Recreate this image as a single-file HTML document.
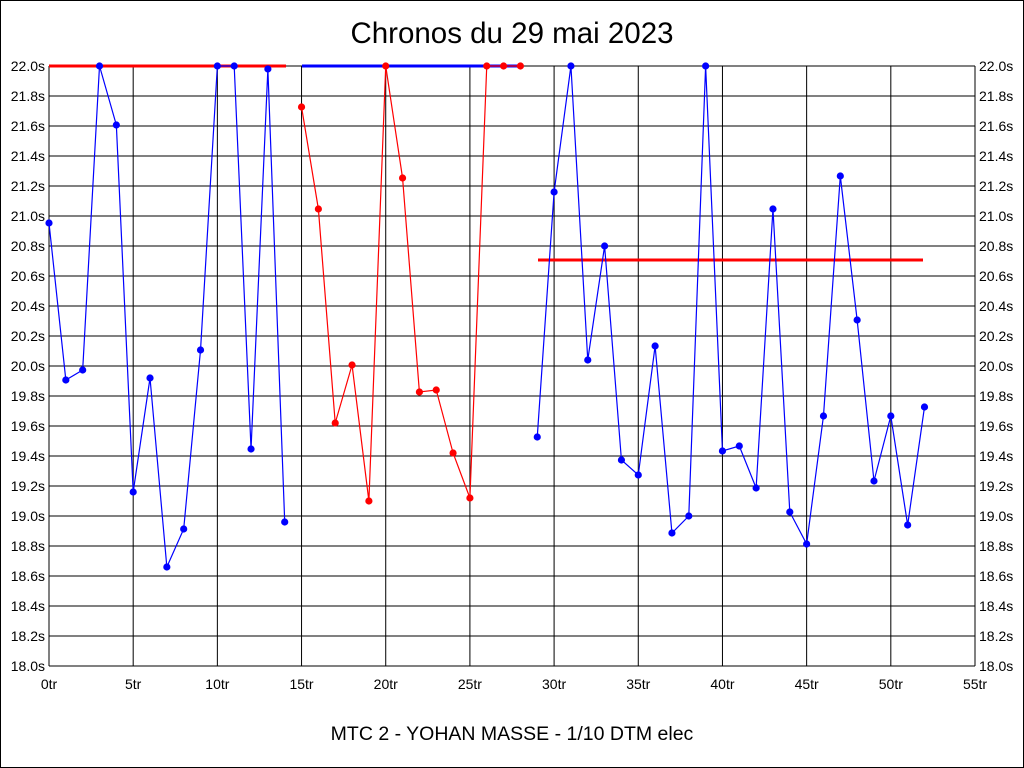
<!DOCTYPE html>
<html><head><meta charset="utf-8"><style>
html,body{margin:0;padding:0;background:#fff}
svg{display:block}
text{font-family:"Liberation Sans",sans-serif;fill:#000}
</style></head><body>
<svg id="s" width="1024" height="768" xmlns="http://www.w3.org/2000/svg">
<rect x="0.5" y="0.5" width="1023" height="767" fill="#fff" stroke="#000"/>
<text x="512" y="43" font-size="29.5" text-anchor="middle">Chronos du 29 mai 2023</text>
<text x="512" y="740" font-size="19.5" text-anchor="middle">MTC 2 - YOHAN MASSE - 1/10 DTM elec</text>
<g id="g"></g>
</svg>
<script>
var g=document.getElementById('g'),h='';
function X(i){return 49+i*926/55}
for(var k=0;k<=20;k++){var y=66+k*30;h+='<line x1="49" x2="975" y1="'+y+'" y2="'+y+'" stroke="#000"/>';
var v=(22-k*0.2).toFixed(1)+'s';h+='<text x="45" y="'+(y+5)+'" font-size="14" text-anchor="end">'+v+'</text><text x="979" y="'+(y+5)+'" font-size="14">'+v+'</text>';}
for(var k=0;k<=11;k++){var x=X(k*5);h+='<line x1="'+x+'" x2="'+x+'" y1="66" y2="666" stroke="#000"/>';
h+='<text x="'+x+'" y="689" font-size="14" text-anchor="middle">'+(k*5)+'tr</text>';}
h+='<line x1="49" x2="286" y1="66" y2="66" stroke="#f00" stroke-width="3"/>';
h+='<line x1="302" x2="522" y1="66" y2="66" stroke="#00f" stroke-width="3"/>';
h+='<line x1="538" x2="923" y1="260" y2="260" stroke="#f00" stroke-width="3"/>';
function ser(st,ys,c){var p=[];for(var i=0;i<ys.length;i++)p.push(X(st+i)+','+ys[i]);
h+='<polyline points="'+p.join(' ')+'" fill="none" stroke="'+c+'" stroke-width="1.2"/>';
for(var i=0;i<ys.length;i++)h+='<circle cx="'+X(st+i)+'" cy="'+ys[i]+'" r="3.6" fill="'+c+'"/>';}
ser(0,[223,380,370,66,125,492,378,567,529,350,66,66,449,69,522],'#00f');
ser(15,[107,209,423,365,501,66,178,392,390,453,498,66,66,66],'#f00');
ser(29,[437,192,66,360,246,460,475,346,533,516,66,451,446,488,209,512,544,416,176,320,481,416,525,407],'#00f');
g.innerHTML=h;
</script>
</body></html>
